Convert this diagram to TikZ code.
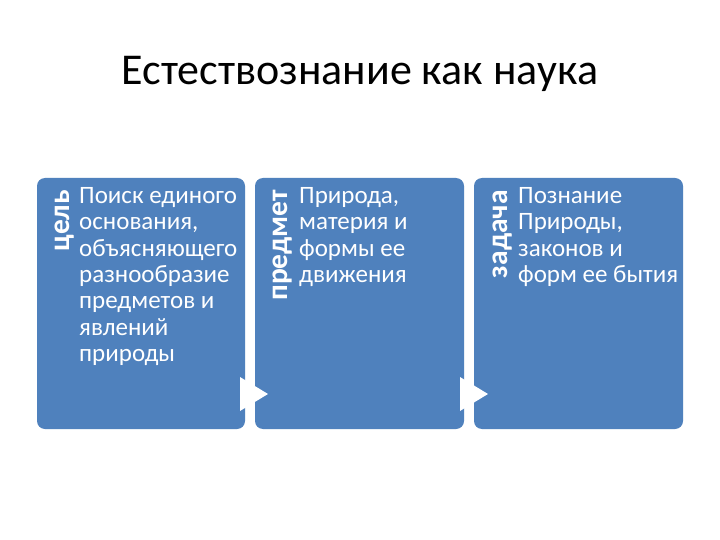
\documentclass[tikz,border=0pt]{standalone}
\usepackage{fontspec}
\setmainfont{Carlito}
\usetikzlibrary{positioning}
\definecolor{boxblue}{HTML}{4F81BD}
\tikzset{
    box/.style={draw=none, fill=boxblue, rounded corners=8pt, inner sep=0pt},
    lbl/.style={text=white, font=\fontsize{29.5}{30}\selectfont\bfseries, rotate=90, anchor=north east, inner sep=0pt},
    txt/.style={text=white, font=\fontsize{25}{26.4}\selectfont, align=left, anchor=north west, inner sep=0pt},
    arrowtri/.style={fill=white, draw=none}
}
\begin{document}
\begin{tikzpicture}[x=1pt, y=-1pt]
    \useasboundingbox[fill=white] (0, 0) rectangle (720, 540);
    \node[font=\fontsize{44}{44}\selectfont, text=black, anchor=base] (title) at (360, 85) {Естествознание как наука};
    % boxes
    \draw[box] (37, 178) rectangle (245, 429);
    \draw[box] (255, 178) rectangle (464, 429);
    \draw[box] (474, 178) rectangle (683, 429);
    % arrows between boxes
    \draw[arrowtri] (240, 377) -- (268, 394) -- (240, 411) -- cycle;
    \draw[arrowtri] (460, 377) -- (488, 394) -- (460, 411) -- cycle;
    % labels
    \node[lbl] (cel) at (55, 190) {цель};
    \node[lbl] (predmet) at (273, 190) {предмет};
    \node[lbl] (zadacha) at (493, 190) {задача};
    % texts
    \node[txt] (celtext) at (79, 187) {Поиск единого\\основания,\\объясняющего\\разнообразие\\предметов и\\явлений\\природы};
    \node[txt] (predmettext) at (299, 187) {Природа,\\материя и\\формы ее\\движения};
    \node[txt] (zadachatext) at (518, 187) {Познание\\Природы,\\законов и\\форм ее бытия};
\end{tikzpicture}
\end{document}
